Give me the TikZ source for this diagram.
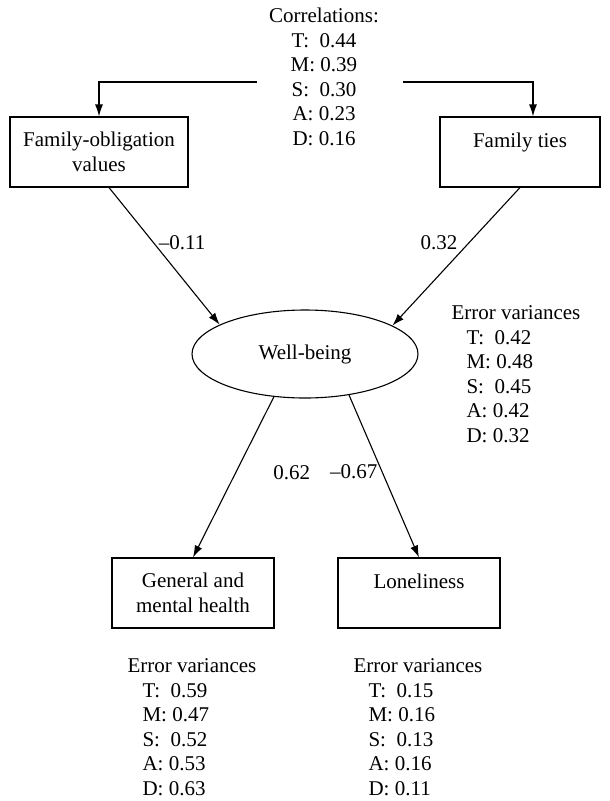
\documentclass[tikz,border=0pt]{standalone}
\usepackage{fontspec}
\setmainfont{Liberation Serif}
\usetikzlibrary{shapes.geometric,arrows.meta,positioning}
\tikzset{>={Latex[length=12pt,width=8pt]}}
\tikzset{
  obsbox/.style={draw, minimum height=70pt, align=center, inner sep=2pt},
  latentell/.style={draw, ellipse, minimum width=226pt, minimum height=88pt, inner sep=0pt},
  varlist/.style={align=left, anchor=north west, inner sep=0pt},
  coeff/.style={inner sep=1pt},
}
\def\ind{\hspace*{15pt}}

\begin{document}
\begin{tikzpicture}[x=1pt, y=-1pt, line width=1.1pt, font=\fontsize{21}{24.5}\selectfont]
          \useasboundingbox (0,0) rectangle (610,801);

          \node[latentell] (wb) at (305,354) {Well-being};
          \node[obsbox, minimum width=178pt] (fov) at (99,152) {Family-obligation\\values};
          \node[obsbox, minimum width=160pt] (ties) at (520,152) {Family ties\\~};
          \node[obsbox, minimum width=162pt] (gen) at (193,593) {General and\\mental health};
          \node[obsbox, minimum width=162pt] (lone) at (419,593) {Loneliness\\~};

          \node[align=center, anchor=north, inner sep=0pt] (corr) at (324,7.5)
            {Correlations:\\T:\ \ 0.44\\M: 0.39\\S:\ \ 0.30\\A: 0.23\\D: 0.16};
          \node[varlist] (errwb) at (451,305.5)
            {Error variances\\\ind T:\ \ 0.42\\\ind M: 0.48\\\ind S:\ \ 0.45\\\ind A: 0.42\\\ind D: 0.32};
          \node[varlist] (errgen) at (127,658.5)
            {Error variances\\\ind T:\ \ 0.59\\\ind M: 0.47\\\ind S:\ \ 0.52\\\ind A: 0.53\\\ind D: 0.63};
          \node[varlist] (errlone) at (353,658.5)
            {Error variances\\\ind T:\ \ 0.15\\\ind M: 0.16\\\ind S:\ \ 0.13\\\ind A: 0.16\\\ind D: 0.11};

          \coordinate (cl) at (257,82);
          \coordinate (cr) at (403,82);
          \draw[->] (cl) -| (fov.north);
          \draw[->] (cr) -| ([xshift=13pt]ties.north);

          \draw[->] ([xshift=10pt]fov.south) -- (wb.161)
            node[coeff, pos=0.4, right=4pt] {\textendash0.11};
          \draw[->] (ties.south) -- (wb.18)
            node[coeff, pos=0.4, left=10pt] {0.32};
          \draw[->] (wb.234) -- (gen.north)
            node[coeff, pos=0.47, right=36pt] {0.62};
          \draw[->] (wb.317) -- (lone.north)
            node[coeff, pos=0.47, left=3pt] {\textendash0.67};
        \end{tikzpicture}
\end{document}
